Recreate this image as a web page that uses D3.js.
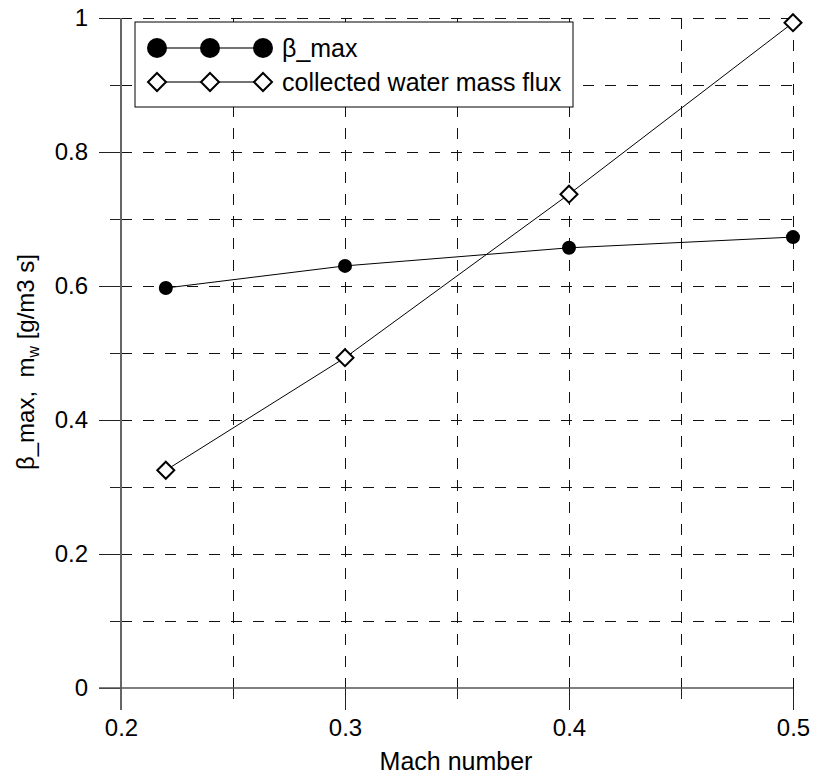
<!DOCTYPE html>
<html>
<head>
<meta charset="utf-8">
<script src="https://d3js.org/d3.v7.min.js"></script>
<style>
  body { margin: 0; background: #fff; }
  svg { font-family: "Liberation Sans", Arial, sans-serif; }
  .grid line { stroke: #111; stroke-width: 1; stroke-dasharray: 11 11; shape-rendering: crispEdges; }
  .tick text { font-size: 24px; fill: #000; }
  .tick line { shape-rendering: crispEdges; }
</style>
</head>
<body>
<svg width="814" height="776"></svg>
<script>
const mach = [0.22, 0.3, 0.4, 0.5];
const betaMax = [0.597, 0.630, 0.657, 0.673];
const waterFlux = [0.325, 0.493, 0.737, 0.993];
const xMajor = [0.2, 0.3, 0.4, 0.5];
const xMinor = [0.25, 0.35, 0.45];
const yMajor = [0, 0.2, 0.4, 0.6, 0.8, 1];
const yMinor = [0.1, 0.3, 0.5, 0.7, 0.9];
const legendLabels = ["β_max", "collected water mass flux"];

const svg = d3.select("svg");
const x = d3.scaleLinear().domain([0.2, 0.5]).range([121, 793]);
const y = d3.scaleLinear().domain([0, 1]).range([688, 18]);

// dashed grid
const grid = svg.append("g").attr("class", "grid");
grid.selectAll(".gy").data(yMajor.concat(yMinor).filter(d => d > 0)).enter()
  .append("line")
  .attr("x1", x(0.2)).attr("x2", x(0.5))
  .attr("y1", d => y(d)).attr("y2", d => y(d));
grid.selectAll(".gx").data(xMajor.concat(xMinor).filter(d => d > 0.2)).enter()
  .append("line")
  .attr("x1", d => x(d)).attr("x2", d => x(d))
  .attr("y1", y(1)).attr("y2", y(0));

// axes
svg.append("g").attr("transform", `translate(${x(0.2)},0)`)
  .call(d3.axisLeft(y).tickValues(yMajor).tickSize(22).tickPadding(11).tickFormat(d3.format("")));
svg.append("g").attr("transform", `translate(${x(0.2)},0)`)
  .call(d3.axisLeft(y).tickValues(yMinor).tickSize(11).tickFormat(""));
svg.append("g").attr("transform", `translate(0,${y(0)})`)
  .call(d3.axisBottom(x).tickValues(xMajor).tickSize(22).tickPadding(9).tickFormat(d3.format("")));
svg.append("g").attr("transform", `translate(0,${y(0)})`)
  .call(d3.axisBottom(x).tickValues(xMinor).tickSize(11).tickFormat(""));
svg.selectAll(".domain").remove();
svg.selectAll(".tick line").attr("stroke", "#222");

svg.append("line").attr("x1", x(0.2)).attr("x2", x(0.2))
  .attr("y1", y(1)).attr("y2", y(0) + 22).attr("stroke", "#666").attr("stroke-width", 2);
svg.append("line").attr("x1", x(0.2) - 22).attr("x2", x(0.5))
  .attr("y1", y(0)).attr("y2", y(0)).attr("stroke", "#555").attr("stroke-width", 1.5);

// series
const line = d3.line().x(d => x(d[0])).y(d => y(d[1]));
const betaPts = mach.map((m, i) => [m, betaMax[i]]);
const fluxPts = mach.map((m, i) => [m, waterFlux[i]]);
svg.append("path").datum(betaPts).attr("d", line).attr("fill", "none").attr("stroke", "#000").attr("stroke-width", 1);
svg.append("path").datum(fluxPts).attr("d", line).attr("fill", "none").attr("stroke", "#000").attr("stroke-width", 1);

function diamond(g, cx, cy, h) {
  g.append("path")
    .attr("d", `M${cx},${cy - h}L${cx + h},${cy}L${cx},${cy + h}L${cx - h},${cy}Z`)
    .attr("fill", "#fff").attr("stroke", "#000").attr("stroke-width", 2);
}
svg.selectAll(".bm").data(betaPts).enter().append("circle")
  .attr("cx", d => x(d[0])).attr("cy", d => y(d[1])).attr("r", 7).attr("fill", "#000");
fluxPts.forEach(d => diamond(svg, x(d[0]), y(d[1]), 8.5));

// legend
const lg = svg.append("g");
lg.append("rect").attr("x", 135).attr("y", 22).attr("width", 438).attr("height", 85)
  .attr("fill", "#fff").attr("stroke", "#000").attr("stroke-width", 1);
const lx = [157, 210, 263];
lg.append("line").attr("x1", lx[0]).attr("x2", lx[2]).attr("y1", 48).attr("y2", 48).attr("stroke", "#444").attr("stroke-width", 1.5);
lg.append("line").attr("x1", lx[0]).attr("x2", lx[2]).attr("y1", 82).attr("y2", 82).attr("stroke", "#444").attr("stroke-width", 1.5);
lx.forEach(cx => {
  lg.append("circle").attr("cx", cx).attr("cy", 48).attr("r", 10).attr("fill", "#000");
  diamond(lg, cx, 82, 9);
});
lg.selectAll(".lt").data(legendLabels).enter().append("text")
  .attr("x", 282).attr("y", (d, i) => 57 + i * 34)
  .attr("font-size", 25).text(d => d);

// axis titles
svg.append("text").attr("x", 456).attr("y", 770).attr("text-anchor", "middle")
  .attr("font-size", 25).text("Mach number");
const yt = svg.append("text").attr("transform", "translate(34,362) rotate(-90)")
  .attr("text-anchor", "middle").attr("font-size", 24).style("white-space", "pre");
yt.append("tspan").text("β_max,  m");
yt.append("tspan").attr("font-size", 16).attr("dy", 5).text("w");
yt.append("tspan").attr("dy", -5).text(" [g/m3 s]");
</script>
</body>
</html>
